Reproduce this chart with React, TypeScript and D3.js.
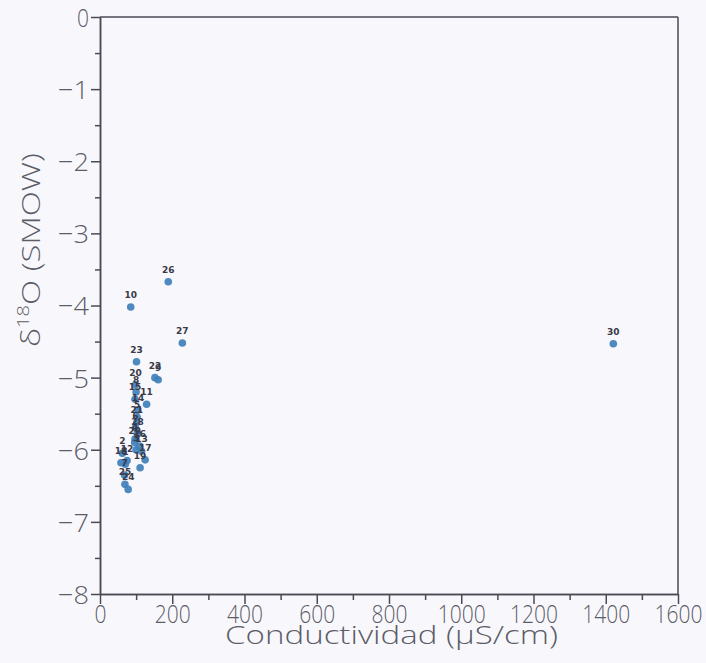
import React, { useEffect, useRef } from 'react';
import * as d3 from 'd3';

// sample ids, conductivity (µS/cm) and δ18O (SMOW)
const ids = [1, 2, 3, 4, 5, 6, 7, 8, 9, 10, 11, 12, 13, 14, 15, 16, 17, 18, 19, 20, 21, 22, 23, 24, 25, 26, 27, 28, 29, 30];
const conductividad = [70, 62, 100, 97, 103, 98, 68, 100, 161, 85, 129, 75, 115, 105, 97, 110, 125, 58, 111, 98, 102, 152, 101, 78, 69, 189, 228, 104, 96, 1421];
const d18O = [-6.2, -6.05, -6.0, -5.85, -5.55, -5.7, -6.35, -5.2, -5.03, -4.02, -5.37, -6.15, -6.02, -5.45, -5.3, -5.95, -6.14, -6.18, -6.25, -5.1, -5.62, -5.0, -4.78, -6.55, -6.48, -3.67, -4.52, -5.78, -5.9, -4.53];

const xTicks = [0, 200, 400, 600, 800, 1000, 1200, 1400, 1600];
const xMinor = [100, 300, 500, 700, 900, 1100, 1300, 1500];
const yTicks = [0, -1, -2, -3, -4, -5, -6, -7, -8];
const yMinor = [-0.5, -1.5, -2.5, -3.5, -4.5, -5.5, -6.5, -7.5];

const FONT = 'Open Sans, Liberation Sans, sans-serif';

const App = () => {
  const svgRef = useRef<SVGSVGElement>(null);

  useEffect(() => {
    const width = 706;
    const height = 663;
    const left = 100, right = 678, top = 17, bottom = 594;
    const textColor = '#5c5c68';
    const axisColor = '#4a4a56';

    const svg = d3.select(svgRef.current).attr('width', width).attr('height', height);
    svg.selectAll('*').remove();

    svg.append('rect').attr('width', width).attr('height', height).attr('fill', '#f8f8fc');

    const x = d3.scaleLinear().domain([0, 1600]).range([left, right]);
    const y = d3.scaleLinear().domain([-8, 0]).range([bottom, top]);

    const styleAxis = (g) => {
      g.selectAll('path').attr('stroke', axisColor).attr('stroke-width', 1.5);
      g.selectAll('line').attr('stroke', axisColor).attr('stroke-width', 1.5);
      g.selectAll('text')
        .attr('fill', textColor)
        .attr('font-family', FONT)
        .attr('font-weight', 300)
        .attr('font-size', 26);
    };

    // minor ticks
    svg.append('g')
      .attr('transform', `translate(0,${bottom})`)
      .call(d3.axisBottom(x).tickValues(xMinor).tickSize(6).tickSizeOuter(0).tickFormat(() => ''))
      .call(styleAxis);
    svg.append('g')
      .attr('transform', `translate(${left},0)`)
      .call(d3.axisLeft(y).tickValues(yMinor).tickSize(5).tickSizeOuter(0).tickFormat(() => ''))
      .call(styleAxis);

    // major ticks
    const gx = svg.append('g')
      .attr('transform', `translate(0,${bottom})`)
      .call(d3.axisBottom(x).tickValues(xTicks).tickSize(10).tickSizeOuter(0).tickPadding(0).tickFormat(d3.format('d')))
      .call(styleAxis);
    gx.selectAll('text')
      .attr('dy', null)
      .attr('y', 29)
      .attr('textLength', (d) => String(d).length * 12)
      .attr('lengthAdjust', 'spacingAndGlyphs');

    const gy = svg.append('g')
      .attr('transform', `translate(${left},0)`)
      .call(d3.axisLeft(y).tickValues(yTicks).tickSize(9).tickSizeOuter(0).tickPadding(2).tickFormat(d3.format('d')))
      .call(styleAxis);
    gy.selectAll('text')
      .attr('dy', '0.36em')
      .attr('textLength', (d) => (d === 0 ? 12 : 31))
      .attr('lengthAdjust', 'spacingAndGlyphs');

    // frame top and right
    svg.append('line').attr('x1', left).attr('x2', right).attr('y1', top).attr('y2', top)
      .attr('stroke', axisColor).attr('stroke-width', 1.5);
    svg.append('line').attr('x1', right).attr('x2', right).attr('y1', top).attr('y2', bottom)
      .attr('stroke', axisColor).attr('stroke-width', 1.5);

    // axis titles
    svg.append('text')
      .attr('x', 225).attr('y', 644)
      .attr('fill', textColor)
      .attr('font-family', FONT)
      .attr('font-weight', 300)
      .attr('font-size', 26)
      .attr('textLength', 333)
      .attr('lengthAdjust', 'spacingAndGlyphs')
      .text('Conductividad  (µS/cm)');

    const yt = svg.append('text')
      .attr('transform', 'translate(40,347) rotate(-90)')
      .attr('fill', textColor)
      .attr('font-family', FONT)
      .attr('font-weight', 300)
      .attr('font-size', 26)
      .attr('textLength', 194)
      .attr('lengthAdjust', 'spacingAndGlyphs');
    yt.append('tspan').text('δ');
    yt.append('tspan').attr('font-size', 16).attr('dy', -11).text('18');
    yt.append('tspan').attr('dy', 11).text('O  (SMOW)');

    const data = ids.map((id, i) => ({ id, c: conductividad[i], o: d18O[i] }));

    svg.append('g')
      .selectAll('circle')
      .data(data)
      .join('circle')
      .attr('cx', (d) => x(d.c))
      .attr('cy', (d) => y(d.o))
      .attr('r', 3.8)
      .attr('fill', '#3f7fba')
      .attr('fill-opacity', 0.92);

    svg.append('g')
      .selectAll('text')
      .data(data)
      .join('text')
      .attr('x', (d) => x(d.c))
      .attr('y', (d) => y(d.o) - 9)
      .attr('text-anchor', 'middle')
      .attr('font-family', 'DejaVu Sans, sans-serif')
      .attr('font-weight', 'bold')
      .attr('font-size', 9)
      .attr('fill', '#3a3a48')
      .text((d) => d.id);
  }, []);

  return (
    <div>
      <svg ref={svgRef} style={{ position: 'absolute', left: 0, top: 0 }}></svg>
    </div>
  );
};

export default App;
